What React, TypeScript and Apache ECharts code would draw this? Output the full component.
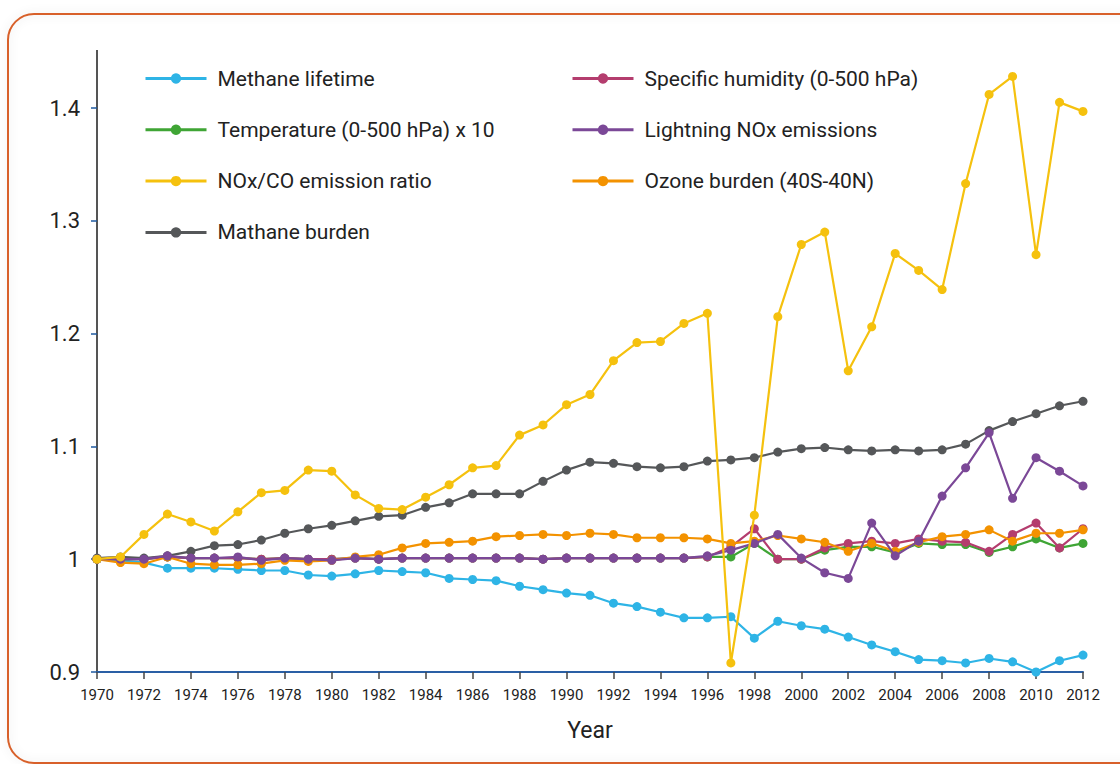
import React, { useEffect, useRef } from "react";
import * as echarts from "echarts";

const years = [
  "1970", "1971", "1972", "1973", "1974", "1975", "1976", "1977", "1978", "1979",
  "1980", "1981", "1982", "1983", "1984", "1985", "1986", "1987", "1988", "1989",
  "1990", "1991", "1992", "1993", "1994", "1995", "1996", "1997", "1998", "1999",
  "2000", "2001", "2002", "2003", "2004", "2005", "2006", "2007", "2008", "2009",
  "2010", "2011", "2012",
];

const yTicks = [0.9, 1.0, 1.1, 1.2, 1.3, 1.4];

const methaneLifetime = [
  1.0, 0.999, 0.997, 0.992, 0.992, 0.992, 0.991, 0.99, 0.99, 0.986,
  0.985, 0.987, 0.99, 0.989, 0.988, 0.983, 0.982, 0.981, 0.976, 0.973,
  0.97, 0.968, 0.961, 0.958, 0.953, 0.948, 0.948, 0.949, 0.93, 0.945,
  0.941, 0.938, 0.931, 0.924, 0.918, 0.911, 0.91, 0.908, 0.912, 0.909,
  0.9, 0.91, 0.915,
];

const specificHumidity = [
  1.0, 1.0, 1.0, 1.002, 1.001, 1.001, 1.001, 1.0, 1.001, 1.0,
  1.0, 1.001, 1.0, 1.001, 1.001, 1.001, 1.001, 1.001, 1.001, 1.0,
  1.001, 1.001, 1.001, 1.001, 1.001, 1.001, 1.002, 1.011, 1.027, 1.0,
  1.0, 1.01, 1.014, 1.016, 1.014, 1.018, 1.016, 1.015, 1.007, 1.022,
  1.032, 1.01, 1.027,
];

const temperature = [
  1.0, 1.0, 1.0, 1.002, 1.001, 1.001, 1.001, 1.0, 1.001, 1.0,
  1.0, 1.001, 1.0, 1.001, 1.001, 1.001, 1.001, 1.001, 1.001, 1.0,
  1.001, 1.001, 1.001, 1.001, 1.001, 1.001, 1.002, 1.002, 1.014, 1.0,
  1.0, 1.008, 1.011, 1.011, 1.006, 1.014, 1.013, 1.013, 1.006, 1.011,
  1.018, 1.01, 1.014,
];

const lightningNOx = [
  1.0, 1.0, 1.0, 1.003, 1.001, 1.001, 1.002, 0.999, 1.001, 1.0,
  0.999, 1.001, 1.0, 1.001, 1.001, 1.001, 1.001, 1.001, 1.001, 1.0,
  1.001, 1.001, 1.001, 1.001, 1.001, 1.001, 1.003, 1.008, 1.014, 1.022,
  1.001, 0.988, 0.983, 1.032, 1.003, 1.016, 1.056, 1.081, 1.112, 1.054,
  1.09, 1.078, 1.065,
];

const noxCoRatio = [
  1.0, 1.002, 1.022, 1.04, 1.033, 1.025, 1.042, 1.059, 1.061, 1.079,
  1.078, 1.057, 1.045, 1.044, 1.055, 1.066, 1.081, 1.083, 1.11, 1.119,
  1.137, 1.146, 1.176, 1.192, 1.193, 1.209, 1.218, 0.908, 1.039, 1.215,
  1.279, 1.29, 1.167, 1.206, 1.271, 1.256, 1.239, 1.333, 1.412, 1.428,
  1.27, 1.405, 1.397,
];

const ozoneBurden = [
  1.0, 0.997, 0.996, 1.002, 0.996, 0.995, 0.995, 0.996, 0.999, 0.998,
  0.999, 1.002, 1.004, 1.01, 1.014, 1.015, 1.016, 1.02, 1.021, 1.022,
  1.021, 1.023, 1.022, 1.019, 1.019, 1.019, 1.018, 1.014, 1.016, 1.021,
  1.018, 1.015, 1.007, 1.014, 1.007, 1.015, 1.02, 1.022, 1.026, 1.016,
  1.023, 1.023, 1.026,
];

const methaneBurden = [
  1.001, 1.002, 1.001, 1.003, 1.007, 1.012, 1.013, 1.017, 1.023, 1.027,
  1.03, 1.034, 1.038, 1.039, 1.046, 1.05, 1.058, 1.058, 1.058, 1.069,
  1.079, 1.086, 1.085, 1.082, 1.081, 1.082, 1.087, 1.088, 1.09, 1.095,
  1.098, 1.099, 1.097, 1.096, 1.097, 1.096, 1.097, 1.102, 1.114, 1.122,
  1.129, 1.136, 1.14,
];

const legendLeft = [
  "Methane lifetime",
  "Temperature (0-500 hPa) x 10",
  "NOx/CO emission ratio",
  "Mathane burden",
];
const legendRight = [
  "Specific humidity (0-500 hPa)",
  "Lightning NOx emissions",
  "Ozone burden (40S-40N)",
];

const FONT = "Roboto, 'Noto Sans', sans-serif";

function mk(name: string, data: number[], color: string, z: number) {
  return {
    name,
    type: "line",
    data,
    symbol: "circle",
    symbolSize: 9,
    clip: false,
    z,
    lineStyle: { width: 2.2, color },
    itemStyle: { color },
    emphasis: { disabled: true },
  };
}

export default function App() {
  const ref = useRef<HTMLDivElement>(null);
  useEffect(() => {
    const chart = echarts.init(ref.current!, null, { renderer: "svg" });
    const legendCommon = {
      orient: "vertical",
      top: 68,
      padding: 0,
      itemWidth: 61,
      itemHeight: 13,
      itemGap: 30.3,
      selectedMode: false,
      lineStyle: { width: 3 },
      textStyle: {
        fontSize: 21,
        fontFamily: FONT,
        color: "#222",
        lineHeight: 21,
        padding: [0, 0, 0, 6],
      },
    };
    chart.setOption({
      animation: false,
      backgroundColor: "#fff",
      grid: { left: 97, right: 37, top: 108, bottom: 92 },
      legend: [
        { ...legendCommon, left: 144, data: legendLeft },
        { ...legendCommon, left: 571, data: legendRight },
      ],
      xAxis: {
        type: "category",
        data: years,
        boundaryGap: false,
        axisLine: { lineStyle: { color: "#2a5fa5", width: 2 } },
        axisTick: {
          interval: 1,
          length: 7,
          lineStyle: { color: "#444", width: 1.5 },
        },
        axisLabel: {
          interval: 1,
          fontSize: 15,
          color: "#222",
          margin: 15,
          fontFamily: FONT,
        },
        name: "Year",
        nameLocation: "middle",
        nameGap: 47,
        nameTextStyle: { fontSize: 23, color: "#222", fontFamily: FONT },
        splitLine: { show: false },
      },
      yAxis: {
        type: "value",
        min: yTicks[0],
        max: yTicks[yTicks.length - 1],
        interval: 0.1,
        axisLine: { show: true, lineStyle: { color: "#555", width: 2 } },
        axisTick: { show: true, length: 6, lineStyle: { color: "#1f5aa0", width: 1.5 } },
        axisLabel: {
          fontSize: 22,
          color: "#222",
          margin: 17,
          fontFamily: FONT,
          formatter: (v: number) =>
            Math.abs(v - 1) < 1e-9 ? "1" : (Math.round(v * 10) / 10).toFixed(1),
        },
        splitLine: { show: false },
      },
      graphic: [
        {
          type: "line",
          shape: { x1: 97, y1: 50, x2: 97, y2: 109 },
          style: { stroke: "#555", lineWidth: 2 },
          silent: true,
        },
        {
          type: "rect",
          shape: { x: 8, y: 14, width: 1150, height: 749, r: 26 },
          style: {
            fill: "none",
            stroke: "#d8612a",
            lineWidth: 2,
            shadowBlur: 10,
            shadowColor: "rgba(0,0,0,0.12)",
          },
          silent: true,
          z: -10,
        },
      ],
      series: [
        mk("Methane lifetime", methaneLifetime, "#2eb4e6", 2),
        mk("Temperature (0-500 hPa) x 10", temperature, "#3fa535", 3),
        mk("Specific humidity (0-500 hPa)", specificHumidity, "#b43d6e", 4),
        mk("Ozone burden (40S-40N)", ozoneBurden, "#f39200", 5),
        mk("Mathane burden", methaneBurden, "#555759", 6),
        mk("Lightning NOx emissions", lightningNOx, "#7b4897", 7),
        mk("NOx/CO emission ratio", noxCoRatio, "#f5c10e", 8),
      ],
    });
    return () => chart.dispose();
  }, []);
  return (
    <div
      ref={ref}
      style={{ position: "fixed", left: 0, top: 0, width: 1120, height: 764, background: "#fff" }}
    />
  );
}
